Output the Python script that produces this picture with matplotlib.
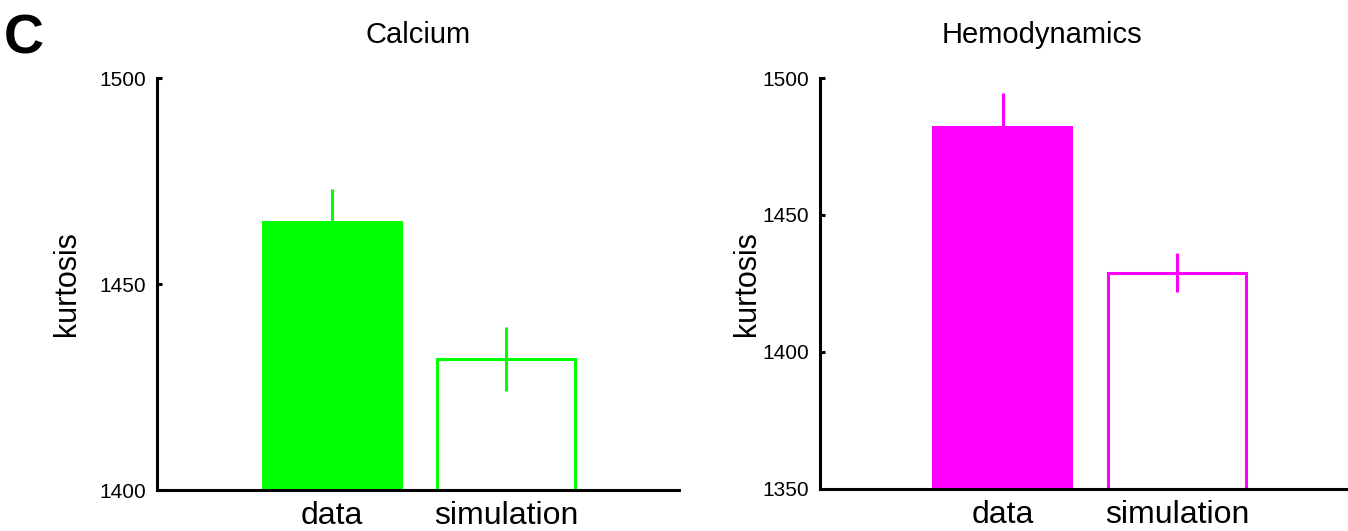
import matplotlib
matplotlib.use("Agg")
import matplotlib.pyplot as plt

plt.rcParams['font.family'] = ['Liberation Sans', 'DejaVu Sans']

categories = ["data", "simulation"]

calcium_means = [1465.3, 1431.8]
calcium_errs = [7.8, 7.7]

hemo_means = [1482.5, 1429.0]
hemo_errs = [12.0, 7.0]

panels = [
    ("Calcium", calcium_means, calcium_errs, "#00ff00", (1400, 1500), [1400, 1450, 1500]),
    ("Hemodynamics", hemo_means, hemo_errs, "#ff00ff", (1350, 1500), [1350, 1400, 1450, 1500]),
]

W, H = 1348, 531
ax_rects = [
    [157 / W, 41 / H, 522 / W, 412 / H],
    [820 / W, 42 / H, 528 / W, 411 / H],
]
xlims = [(-0.007, 2.993), (-0.046, 2.98)]
title_x = [0.50, 0.42]
ylabel_x = [-0.143, -0.110]

fig = plt.figure(figsize=(W / 100, H / 100), dpi=100)

for i, (title, means, errs, color, ylim, yticks) in enumerate(panels):
    ax = fig.add_axes(ax_rects[i])
    x = [1, 2]
    # filled bar for data, outlined bar for simulation
    ax.bar(x[0], means[0] - ylim[0], bottom=ylim[0], width=0.81,
           color=color, edgecolor=color, linewidth=0, zorder=2)
    ax.bar(x[1], means[1] - ylim[0], bottom=ylim[0], width=0.79,
           color="white", edgecolor=color, linewidth=2.2, zorder=2)
    ax.errorbar(x, means, yerr=errs, fmt="none", ecolor=color,
                elinewidth=2.2, capsize=0, zorder=3)

    ax.set_xlim(*xlims[i])
    ax.set_ylim(*ylim)
    ax.set_yticks(yticks)
    ax.set_yticklabels([str(t) for t in yticks], fontsize=15)
    ax.set_xticks(x)
    ax.set_xticklabels(categories, fontsize=23)
    ax.tick_params(axis="x", length=0, pad=8)
    ax.tick_params(axis="y", length=3.5, width=2.2, pad=8, direction="in")

    for side in ["top", "right"]:
        ax.spines[side].set_visible(False)
    for side in ["left", "bottom"]:
        ax.spines[side].set_linewidth(2.2)
        ax.spines[side].set_color("black")
        ax.spines[side].set_clip_on(False)

    ax.set_ylabel("kurtosis", fontsize=22)
    ax.yaxis.set_label_coords(ylabel_x[i], 0.5)
    ax.text(title_x[i], 1.104, title, transform=ax.transAxes,
            ha="center", va="center", fontsize=21)

fig.text(4 / W, 1 - 14 / H, "C", fontsize=40, fontweight="bold",
         ha="left", va="top")

plt.savefig("out.png", dpi=100)
